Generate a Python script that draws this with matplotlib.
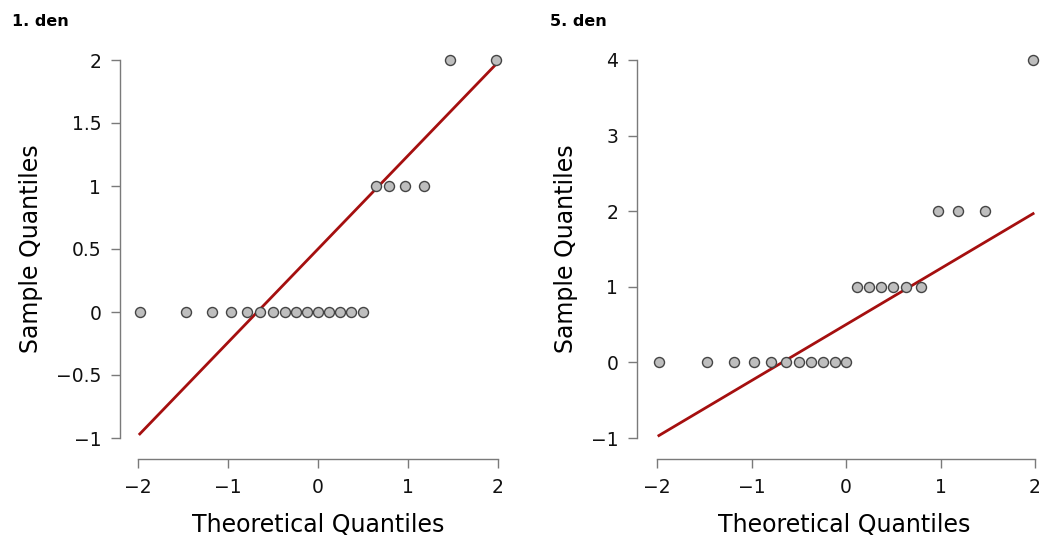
import numpy as np
import matplotlib.pyplot as plt

# theoretical normal quantiles for n = 21, qnorm((i - 0.5) / 21)
theoretical = [-1.98, -1.47, -1.18, -0.97, -0.79, -0.64, -0.50, -0.37, -0.24, -0.12, 0.0,
               0.12, 0.24, 0.37, 0.50, 0.64, 0.79, 0.97, 1.18, 1.47, 1.98]
day1_sample = [0] * 15 + [1] * 4 + [2] * 2
day5_sample = [0] * 11 + [1] * 6 + [2] * 3 + [4]

titles = ['1. den', '5. den']
yticks_list = [[-1, -0.5, 0, 0.5, 1, 1.5, 2], [-1, 0, 1, 2, 3, 4]]
ytick_labels = [['\u22121', '\u22120.5', '0', '0.5', '1', '1.5', '2'],
                ['\u22121', '0', '1', '2', '3', '4']]
xticks = [-2, -1, 0, 1, 2]
xtick_labels = ['\u22122', '\u22121', '0', '1', '2']

W, H = 1042, 540
fig = plt.figure(figsize=(W / 100, H / 100), dpi=100)

# pixel boxes [left, right, top, bottom], limits, spine offsets in px
panels = [
    dict(box=(128, 508, 50, 448), xlim=(-2 - 10 / 90, 2 + 10 / 90),
         ylim=(-1 - 10 / 126, 2 + 10 / 126), off_l=8, off_b=11, title_x=12),
    dict(box=(647, 1042, 50, 448), xlim=(-2 - 10 / 94.5, 2 + 7 / 94.5),
         ylim=(-1 - 10 / 75.6, 4 + 10 / 75.6), off_l=10, off_b=11, title_x=550),
]
samples = [day1_sample, day5_sample]

spine_col = '#7a7a7a'
for i, p in enumerate(panels):
    l, r, t, b = p['box']
    ax = fig.add_axes([l / W, 1 - b / H, (r - l) / W, (b - t) / H])
    ax.set_xlim(*p['xlim'])
    ax.set_ylim(*p['ylim'])

    y = np.array(samples[i], dtype=float)
    x = np.array(theoretical)
    # reference line through the 1st and 3rd quartiles (like R's qqline)
    q1, q3 = np.percentile(y, [25, 75])
    z1, z3 = -0.6745, 0.6745
    slope = (q3 - q1) / (z3 - z1)
    inter = q1 - slope * z1
    xl = np.array([x.min(), x.max()])
    ax.plot(xl, inter + slope * xl, color='#a50f0f', lw=2.0, zorder=2)
    ax.scatter(x, y, s=52, c='#bebebe', edgecolors='#444444', linewidths=1.0,
               zorder=3, clip_on=False)

    for s in ['top', 'right']:
        ax.spines[s].set_visible(False)
    ax.spines['left'].set_position(('outward', p['off_l'] * 0.72))
    ax.spines['bottom'].set_position(('outward', p['off_b'] * 0.72))
    ax.spines['left'].set_bounds(yticks_list[i][0], yticks_list[i][-1])
    ax.spines['bottom'].set_bounds(-2, 2)
    for s in ['left', 'bottom']:
        ax.spines[s].set_color(spine_col)
        ax.spines[s].set_linewidth(1.0)

    ax.set_xticks(xticks)
    ax.set_xticklabels(xtick_labels)
    ax.set_yticks(yticks_list[i])
    ax.set_yticklabels(ytick_labels[i])
    ax.tick_params(direction='out', length=6.5, width=1.0, color=spine_col,
                   labelsize=13.5, labelcolor='#111111', pad=7)
    ax.set_xlabel('Theoretical Quantiles', fontsize=17, labelpad=12)
    ax.set_ylabel('Sample Quantiles', fontsize=17, labelpad=9)

    fig.text(p['title_x'] / W, 1 - 22 / H, titles[i], fontsize=11.5,
             fontweight='bold', va='center', ha='left')

fig.savefig('out.png', dpi=100)
